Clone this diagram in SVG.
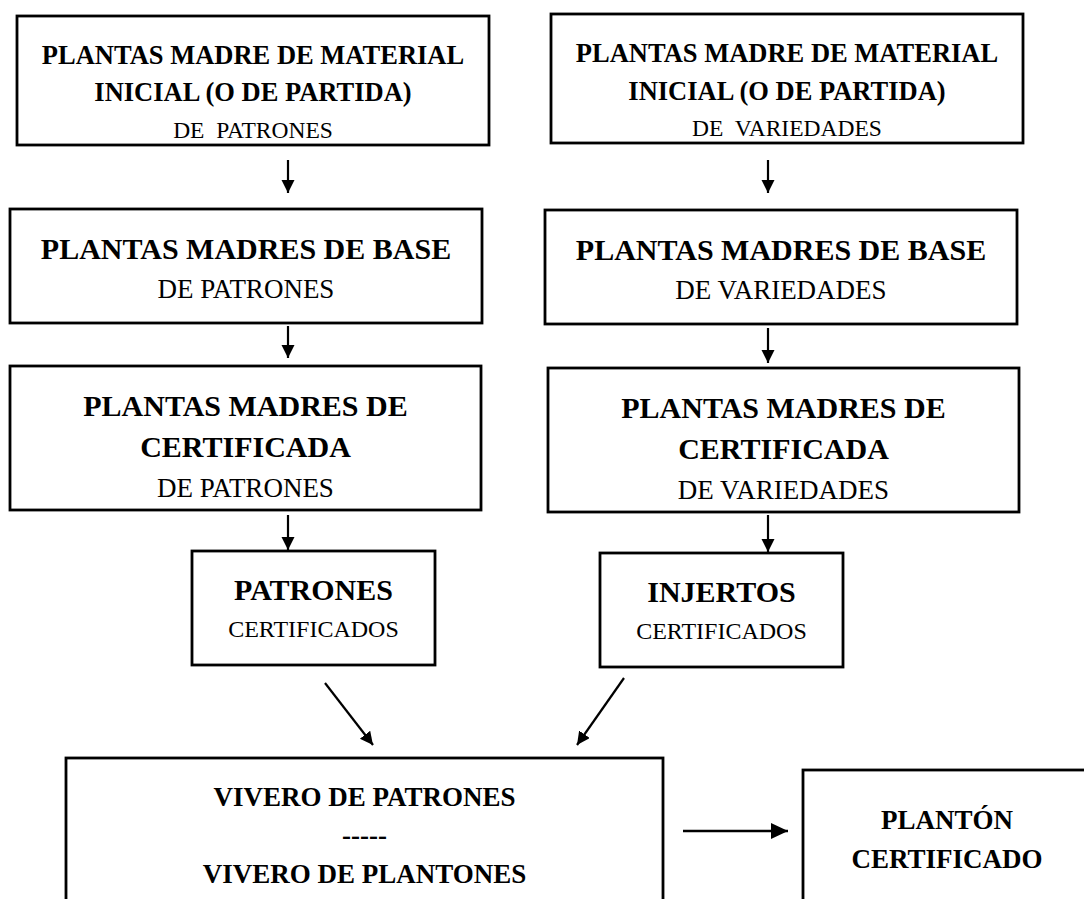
<svg xmlns="http://www.w3.org/2000/svg" width="1084" height="899" viewBox="0 0 1084 899">
<defs>
<style>
.box{fill:#fff;stroke:#000;stroke-width:2.8}
.b{font-family:"Liberation Serif","Times New Roman",serif;font-weight:bold;text-anchor:middle;fill:#000}
.r{font-family:"Liberation Serif","Times New Roman",serif;text-anchor:middle;fill:#000;white-space:pre}
.c{stroke:#000;stroke-width:2.2;fill:none;marker-end:url(#ah)}
.cb{stroke:#000;stroke-width:2.6;fill:none;marker-end:url(#ahb)}
</style>
<marker id="ah" markerUnits="userSpaceOnUse" markerWidth="14" markerHeight="14" refX="13" refY="6.5" orient="auto">
<path d="M0,0 L13,6.5 L0,13 z" fill="#000"/>
</marker>
<marker id="ahb" markerUnits="userSpaceOnUse" markerWidth="18" markerHeight="16" refX="17" refY="8" orient="auto">
<path d="M0,0 L17,8 L0,16 z" fill="#000"/>
</marker>
</defs>
<rect width="1084" height="899" fill="#fff"/>
<g id="n1">
<rect class="box" x="17" y="16" width="472" height="129"/>
<text class="b" x="253" y="64" font-size="26.5">PLANTAS MADRE DE MATERIAL</text>
<text class="b" x="253" y="101" font-size="26.5">INICIAL (O DE PARTIDA)</text>
<text class="r" x="253" y="138" font-size="23.5" xml:space="preserve">DE  PATRONES</text>
</g>
<g id="n2">
<rect class="box" x="551" y="14" width="472" height="129"/>
<text class="b" x="787" y="62" font-size="26.5">PLANTAS MADRE DE MATERIAL</text>
<text class="b" x="787" y="100" font-size="26.5">INICIAL (O DE PARTIDA)</text>
<text class="r" x="787" y="136" font-size="23.5" xml:space="preserve">DE  VARIEDADES</text>
</g>
<g id="n3">
<rect class="box" x="10" y="209" width="472" height="114"/>
<text class="b" x="246" y="259" font-size="30">PLANTAS MADRES DE BASE</text>
<text class="r" x="246" y="298" font-size="27">DE PATRONES</text>
</g>
<g id="n4">
<rect class="box" x="545" y="210" width="472" height="114"/>
<text class="b" x="781" y="260" font-size="30">PLANTAS MADRES DE BASE</text>
<text class="r" x="781" y="299" font-size="27">DE VARIEDADES</text>
</g>
<g id="n5">
<rect class="box" x="10" y="366" width="471" height="144"/>
<text class="b" x="245.5" y="416" font-size="30">PLANTAS MADRES DE</text>
<text class="b" x="245.5" y="457" font-size="30">CERTIFICADA</text>
<text class="r" x="245.5" y="497" font-size="27">DE PATRONES</text>
</g>
<g id="n6">
<rect class="box" x="548" y="368" width="471" height="144"/>
<text class="b" x="783.5" y="418" font-size="30">PLANTAS MADRES DE</text>
<text class="b" x="783.5" y="459" font-size="30">CERTIFICADA</text>
<text class="r" x="783.5" y="499" font-size="27">DE VARIEDADES</text>
</g>
<g id="n7">
<rect class="box" x="192" y="551" width="243" height="114"/>
<text class="b" x="313.5" y="600" font-size="30">PATRONES</text>
<text class="r" x="313.5" y="637" font-size="24">CERTIFICADOS</text>
</g>
<g id="n8">
<rect class="box" x="600" y="553" width="243" height="114"/>
<text class="b" x="721.5" y="602" font-size="30">INJERTOS</text>
<text class="r" x="721.5" y="639" font-size="24">CERTIFICADOS</text>
</g>
<g id="n9">
<rect class="box" x="66" y="758" width="597" height="160"/>
<text class="b" x="364.5" y="806" font-size="27">VIVERO DE PATRONES</text>
<text class="b" x="364.5" y="844" font-size="27">-----</text>
<text class="b" x="364.5" y="883" font-size="27">VIVERO DE PLANTONES</text>
</g>
<g id="n10">
<rect class="box" x="803" y="770" width="300" height="150"/>
<text class="b" x="947" y="829" font-size="27">PLANTÓN</text>
<text class="b" x="947" y="868" font-size="27">CERTIFICADO</text>
</g>
<g id="connectors">
<line class="c" x1="288" y1="160" x2="288" y2="193"/>
<line class="c" x1="768" y1="160" x2="768" y2="193"/>
<line class="c" x1="288" y1="326" x2="288" y2="358"/>
<line class="c" x1="768" y1="328" x2="768" y2="363"/>
<line class="c" x1="288" y1="515" x2="288" y2="550"/>
<line class="c" x1="768" y1="515" x2="768" y2="552"/>
<line class="c" x1="325" y1="683" x2="373" y2="745"/>
<line class="c" x1="624" y1="678" x2="577" y2="745"/>
<line class="cb" x1="683" y1="831" x2="788" y2="831"/>
</g>
</svg>
